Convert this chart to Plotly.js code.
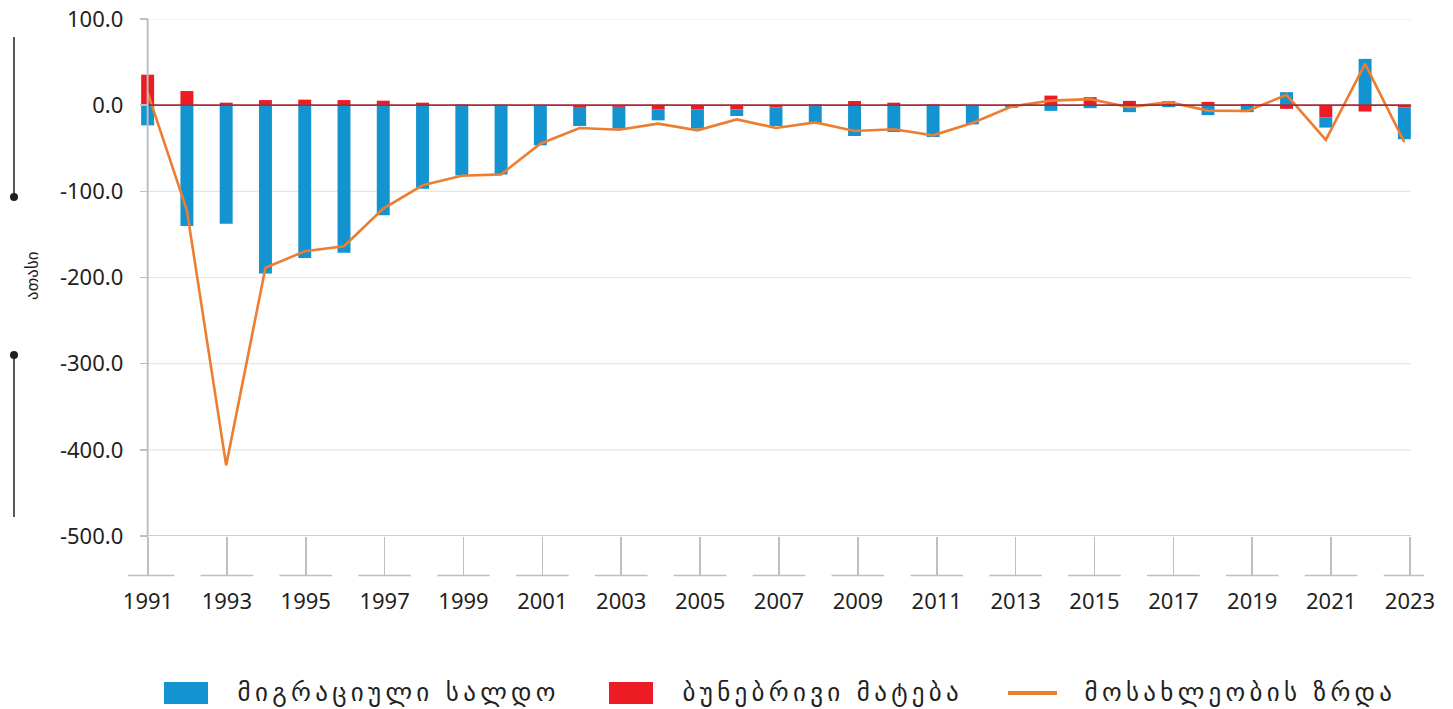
<!DOCTYPE html>
<html>
<head>
<meta charset="utf-8">
<script src="https://cdn.plot.ly/plotly-3.0.1.min.js"></script>
<style>
html,body{margin:0;padding:0;background:#fff;}
#chart{width:1453px;height:709px;}
#chart g.annotation:not([data-index="0"]) text.annotation-text{letter-spacing:4.3px;}
</style>
</head>
<body>
<div id="chart"></div>
<script>
// ---- data (thousands) ----
const years = [1991,1992,1993,1994,1995,1996,1997,1998,1999,2000,2001,2002,2003,2004,2005,2006,2007,2008,2009,2010,2011,2012,2013,2014,2015,2016,2017,2018,2019,2020,2021,2022,2023];
const naturalIncrease = [35.4,16.4,2.9,5.9,6.4,5.9,5.2,2.9,0.8,0.5,0.3,-3.1,-2.0,-5.2,-5.2,-4.9,-2.7,0.9,4.8,2.9,0.9,0.3,0.5,11.1,9.3,5.0,4.6,3.8,1.2,-4.3,-14.4,-7.4,-2.8];
const migrationBalance = [-23.4,-140.3,-137.5,-195.5,-177.4,-171.2,-127.9,-96.9,-81.5,-80.6,-46.6,-21.1,-25.3,-12.4,-22.1,-7.7,-21.5,-20.7,-35.8,-31.2,-37.0,-22.3,-3.0,-6.6,-3.5,-8.1,-2.3,-11.6,-8.1,15.1,-11.6,53.7,-36.7];
const populationGrowth = [14.5,-122,-418,-188.6,-169.6,-163.8,-120,-93,-82,-80.3,-44.7,-26.5,-28.5,-21.5,-29.2,-16.5,-26.5,-20,-30,-28,-35,-20.7,-1.5,5.3,7,-2.3,3.5,-6.3,-6.8,12,-40.3,47.9,-42.8];
const xTickYears = [1991,1993,1995,1997,1999,2001,2003,2005,2007,2009,2011,2013,2015,2017,2019,2021,2023];
const yTicks = [100,0,-100,-200,-300,-400,-500];
const seriesNames = ['მიგრაციული სალდო','ბუნებრივი მატება','მოსახლეობის ზრდა'];
const yTitle = 'ათასი';

// ---- styling ----
const W = 1453, H = 709;
const M = {l:128, r:29, t:19, b:173};
const PW = W - M.l - M.r, PH = H - M.t - M.b;
const px = v => (v - M.l) / PW;          // pixel -> paper x
const py = v => (H - M.b - v) / PH;      // pixel -> paper y
const BLUE = '#1393d0', RED = '#ed1c24', ORANGE = '#ed7d31', INK = '#231f20', AXIS = '#bfbfbf';
const GEO = 'DejaVu Sans, Noto Sans, sans-serif';
const NUM = 'Noto Sans, Open Sans, sans-serif';

const first = years[0], last = years[years.length-1];
// the category ticks of the reference are spaced a little wider than the bars
const tickStep = 39.44;
const tickRange = [first - (148 - M.l)/tickStep, last + (M.l + PW - 1410)/tickStep];

const traces = [
  {type:'bar', x:years, y:naturalIncrease, name:seriesNames[1], marker:{color:RED}, showlegend:false, hoverinfo:'x+y'},
  {type:'bar', x:years, y:migrationBalance, name:seriesNames[0], marker:{color:BLUE}, showlegend:false, hoverinfo:'x+y'},
  {type:'scatter', mode:'lines', x:years, y:populationGrowth, name:seriesNames[2], line:{color:ORANGE, width:2.6}, showlegend:false},
  {type:'scatter', mode:'lines', x:xTickYears, y:xTickYears.map(()=>null), xaxis:'x2', yaxis:'y', showlegend:false, hoverinfo:'skip', line:{width:0}}
];

const shapes = [];
yTicks.forEach(v => {
  const bottom = v === yTicks[yTicks.length-1];
  shapes.push({type:'line', xref:'x', yref:'y', x0:first, x1:last+0.17, y0:v, y1:v, layer:'below',
    line:{color: bottom ? AXIS : '#e4e6e6', width: bottom ? 1.6 : 1.2}});
});
shapes.push({type:'line', xref:'x', yref:'y', x0:first, x1:last+0.17, y0:0, y1:0, layer:'above', line:{color:'#a82c3a', width:1.6}});
shapes.push({type:'line', xref:'x', yref:'paper', x0:first, x1:first, y0:0, y1:1, layer:'above', line:{color:AXIS, width:2}});
xTickYears.forEach(yr => {
  shapes.push({type:'line', xref:'x2', yref:'paper', x0:yr-0.667, x1:yr+0.667, y0:py(575.5), y1:py(575.5), line:{color:AXIS, width:1.6}});
});
shapes.push({type:'line', xref:'paper', yref:'paper', x0:px(14), x1:px(14), y0:py(37), y1:py(197), line:{color:INK, width:1.5}});
shapes.push({type:'line', xref:'paper', yref:'paper', x0:px(14), x1:px(14), y0:py(355), y1:py(517), line:{color:INK, width:1.5}});
[197,355].forEach(c => shapes.push({type:'circle', xref:'paper', yref:'paper', x0:px(10), x1:px(18), y0:py(c+4), y1:py(c-4), fillcolor:INK, line:{color:INK, width:0}}));
shapes.push({type:'rect', xref:'paper', yref:'paper', x0:px(164), x1:px(208), y0:py(704), y1:py(682), fillcolor:BLUE, line:{width:0}});
shapes.push({type:'rect', xref:'paper', yref:'paper', x0:px(609), x1:px(653), y0:py(704), y1:py(682), fillcolor:RED, line:{width:0}});
shapes.push({type:'line', xref:'paper', yref:'paper', x0:px(1008), x1:px(1057), y0:py(693), y1:py(693), line:{color:ORANGE, width:4}});

const annotations = [
  {xref:'paper', yref:'paper', x:px(20), y:py(276), text:yTitle, textangle:-90, showarrow:false, font:{family:GEO, size:17, color:INK}},
  {xref:'paper', yref:'paper', x:px(398), y:py(692), xanchor:'center', yanchor:'middle', text:seriesNames[0], showarrow:false, font:{family:GEO, size:25, color:INK}},
  {xref:'paper', yref:'paper', x:px(823), y:py(692), xanchor:'center', yanchor:'middle', text:seriesNames[1], showarrow:false, font:{family:GEO, size:25, color:INK}},
  {xref:'paper', yref:'paper', x:px(1240), y:py(692), xanchor:'center', yanchor:'middle', text:seriesNames[2], showarrow:false, font:{family:GEO, size:25, color:INK}}
];

const layout = {
  width:W, height:H, margin:M, paper_bgcolor:'#fff', plot_bgcolor:'#fff',
  barmode:'relative', bargap:0.67, showlegend:false,
  xaxis:{range:[first-0.5, last+0.5], showticklabels:false, ticks:'', showgrid:false, zeroline:false, showline:false, fixedrange:true},
  xaxis2:{overlaying:'x', side:'bottom', anchor:'y', range:tickRange, tickvals:xTickYears, ticktext:xTickYears.map(String),
          ticks:'outside', ticklen:38, tickwidth:1.6, tickcolor:AXIS, ticklabelstandoff:8,
          showgrid:false, zeroline:false, showline:false, tickfont:{family:NUM, size:22, color:INK}, fixedrange:true},
  yaxis:{range:[-500,100], tickvals:yTicks, ticktext:yTicks.map(v=>v.toFixed(1)), ticks:'outside', ticklen:8, tickwidth:1.6, tickcolor:AXIS,
         showgrid:false, zeroline:false, showline:false, anchor:'free', position:0.5/years.length, ticklabelstandoff:12,
         tickfont:{family:NUM, size:22, color:INK}, fixedrange:true},
  shapes:shapes, annotations:annotations
};
Plotly.newPlot('chart', traces, layout, {displayModeBar:false, staticPlot:true});
</script>
</body>
</html>
